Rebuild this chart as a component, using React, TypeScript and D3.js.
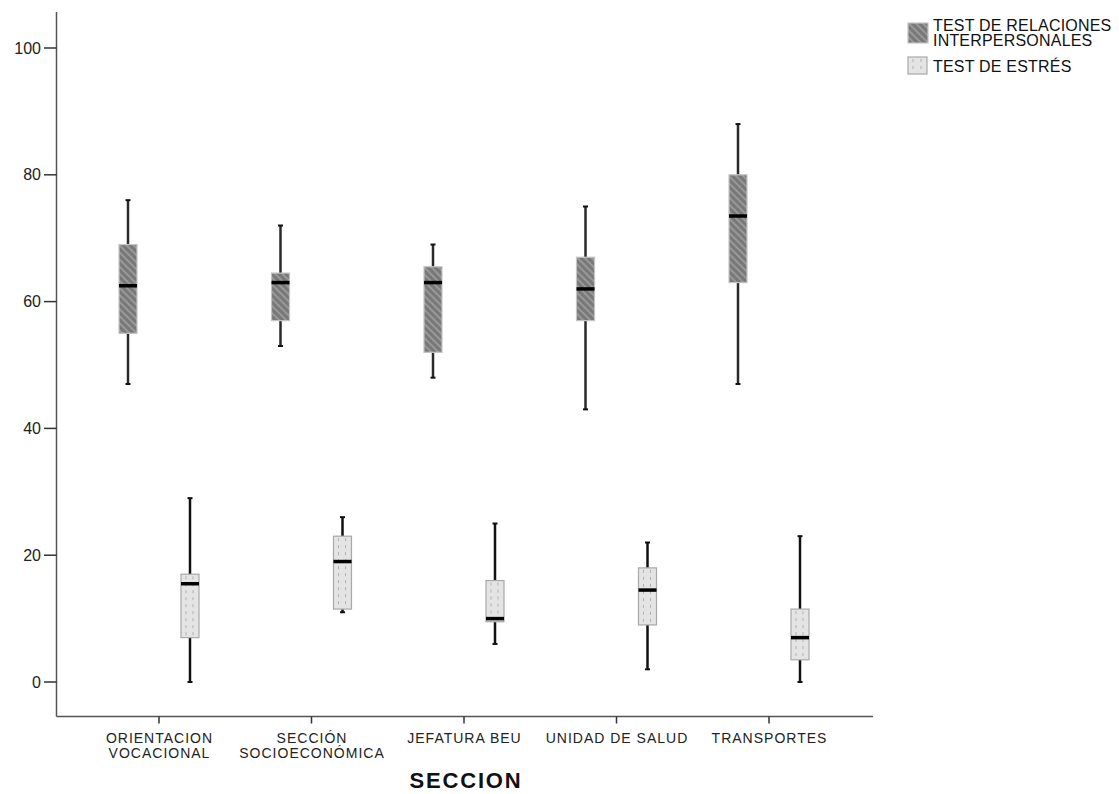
import React from 'react';
import * as d3 from 'd3';

// Sections (x categories), each label split into its printed lines
const categories = ['ORIENTACION VOCACIONAL', 'SECCIÓN SOCIOECONÓMICA', 'JEFATURA BEU', 'UNIDAD DE SALUD', 'TRANSPORTES'];
const categoryLines = [
  ['ORIENTACION', 'VOCACIONAL'],
  ['SECCIÓN', 'SOCIOECONÓMICA'],
  ['JEFATURA BEU'],
  ['UNIDAD DE SALUD'],
  ['TRANSPORTES'],
];

const seriesNames = ['TEST DE RELACIONES INTERPERSONALES', 'TEST DE ESTRÉS'];

// Test de relaciones interpersonales: five-number summaries per section
const relacionesMin = [47, 53, 48, 43, 47];
const relacionesQ1 = [55, 57, 52, 57, 63];
const relacionesMedian = [62.5, 63, 63, 62, 73.5];
const relacionesQ3 = [69, 64.5, 65.5, 67, 80];
const relacionesMax = [76, 72, 69, 75, 88];

// Test de estrés: five-number summaries per section
const estresMin = [0, 11, 6, 2, 0];
const estresQ1 = [7, 11.5, 9.5, 9, 3.5];
const estresMedian = [15.5, 19, 10, 14.5, 7];
const estresQ3 = [17, 23, 16, 18, 11.5];
const estresMax = [29, 26, 25, 22, 23];

const yTicks = [0, 20, 40, 60, 80, 100];

type Box = { cat: string; series: string; min: number; q1: number; med: number; q3: number; max: number };

const boxes: Box[] = [
  ...categories.map((c, i) => ({
    cat: c, series: seriesNames[0],
    min: relacionesMin[i], q1: relacionesQ1[i], med: relacionesMedian[i], q3: relacionesQ3[i], max: relacionesMax[i],
  })),
  ...categories.map((c, i) => ({
    cat: c, series: seriesNames[1],
    min: estresMin[i], q1: estresQ1[i], med: estresMedian[i], q3: estresQ3[i], max: estresMax[i],
  })),
];

const FONT = '"Liberation Sans", Arial, Helvetica, sans-serif';

export default function App() {
  const width = 1119;
  const height = 794;
  const axisX = 56.5;
  const axisY = 716.5;
  const axisRight = 873;
  const axisTop = 12;

  const y = d3.scaleLinear().domain([0, 100]).range([682, 48]);
  const x = d3.scaleBand<string>().domain(categories).range([82.75, 845.25]).paddingInner(0).paddingOuter(0);
  const xs = d3.scaleBand<string>().domain(seriesNames).range([-62, 62]);
  const boxW = 18;

  const center = (b: Box) => (x(b.cat) ?? 0) + x.bandwidth() / 2 + (xs(b.series) ?? 0) + xs.bandwidth() / 2;

  return (
    <svg
      width={width}
      height={height}
      style={{ position: 'absolute', left: 0, top: 0, background: '#ffffff' }}
      fontFamily={FONT}
    >
      <defs>
        <pattern id="hatch" patternUnits="userSpaceOnUse" width={5} height={5} patternTransform="rotate(-45)">
          <rect width={5} height={5} fill="#787878" />
          <rect width={2} height={5} fill="#989898" />
        </pattern>
      </defs>
      <rect width={width} height={height} fill="#ffffff" />

      {/* axes */}
      <line x1={axisX} x2={axisX} y1={axisTop} y2={axisY} stroke="#555" strokeWidth={1.5} />
      <line x1={axisX} x2={axisRight} y1={axisY} y2={axisY} stroke="#555" strokeWidth={1.5} />
      {yTicks.map((t) => (
        <g key={t}>
          <line x1={44} x2={axisX} y1={y(t)} y2={y(t)} stroke="#333" strokeWidth={1.5} />
          <text x={41} y={y(t) + 5.5} textAnchor="end" fontSize={16} fill="#222">
            {t}
          </text>
        </g>
      ))}
      {categories.map((c, i) => {
        const cx = (x(c) ?? 0) + x.bandwidth() / 2;
        return (
          <g key={c}>
            <line x1={cx} x2={cx} y1={axisY} y2={axisY + 7} stroke="#333" strokeWidth={1.5} />
            {categoryLines[i].map((ln, j) => (
              <text key={j} x={cx + 0.5} y={743 + j * 15} textAnchor="middle" fontSize={14} letterSpacing={1} fill="#222">
                {ln}
              </text>
            ))}
          </g>
        );
      })}
      <text x={466} y={788} textAnchor="middle" fontSize={22} fontWeight="bold" letterSpacing={1.8} fill="#111">
        SECCION
      </text>

      {/* box plots */}
      {boxes.map((b, i) => {
        const cx = center(b);
        const isRel = b.series === seriesNames[0];
        const x0 = cx - boxW / 2;
        const yTop = y(b.q3);
        const yBot = y(b.q1);
        const whiskerColor = isRel ? '#2a2a2a' : '#111';
        return (
          <g key={i}>
            <line x1={cx} x2={cx} y1={y(b.max)} y2={yTop} stroke={whiskerColor} strokeWidth={2.5} />
            <line x1={cx} x2={cx} y1={yBot} y2={y(b.min)} stroke={whiskerColor} strokeWidth={2.5} />
            <line x1={cx - 2.5} x2={cx + 2.5} y1={y(b.max)} y2={y(b.max)} stroke="#111" strokeWidth={2} />
            <line x1={cx - 2.5} x2={cx + 2.5} y1={y(b.min)} y2={y(b.min)} stroke="#111" strokeWidth={2} />
            <rect
              x={x0}
              y={yTop}
              width={boxW}
              height={yBot - yTop}
              fill={isRel ? 'url(#hatch)' : '#e4e4e4'}
              stroke={isRel ? '#c4c4c4' : '#a8a8a8'}
              strokeWidth={1.2}
            />
            {!isRel && (
              <>
                <line x1={x0 + 5} x2={x0 + 5} y1={yTop + 2} y2={yBot - 1} stroke="#b0b0b0" strokeWidth={1} strokeDasharray="3 4" />
                <line x1={x0 + 12} x2={x0 + 12} y1={yTop + 2} y2={yBot - 1} stroke="#b0b0b0" strokeWidth={1} strokeDasharray="3 4" />
              </>
            )}
            <line x1={x0} x2={x0 + boxW} y1={y(b.med)} y2={y(b.med)} stroke="#000" strokeWidth={3.5} />
          </g>
        );
      })}

      {/* legend */}
      <rect x={908} y={23} width={20} height={20} fill="url(#hatch)" stroke="#c4c4c4" strokeWidth={1.2} />
      <text x={933} y={30.5} fontSize={16} letterSpacing={0.2} fill="#111">TEST DE RELACIONES</text>
      <text x={933} y={45.5} fontSize={16} letterSpacing={0.2} fill="#111">INTERPERSONALES</text>
      <rect x={908} y={57} width={19} height={17} fill="#e4e4e4" stroke="#a8a8a8" strokeWidth={1.2} />
      <line x1={913} x2={913} y1={59} y2={72} stroke="#b0b0b0" strokeWidth={1} strokeDasharray="3 4" />
      <line x1={921} x2={921} y1={59} y2={72} stroke="#b0b0b0" strokeWidth={1} strokeDasharray="3 4" />
      <text x={933} y={71.5} fontSize={16} letterSpacing={0.2} fill="#111">TEST DE ESTRÉS</text>
    </svg>
  );
}
